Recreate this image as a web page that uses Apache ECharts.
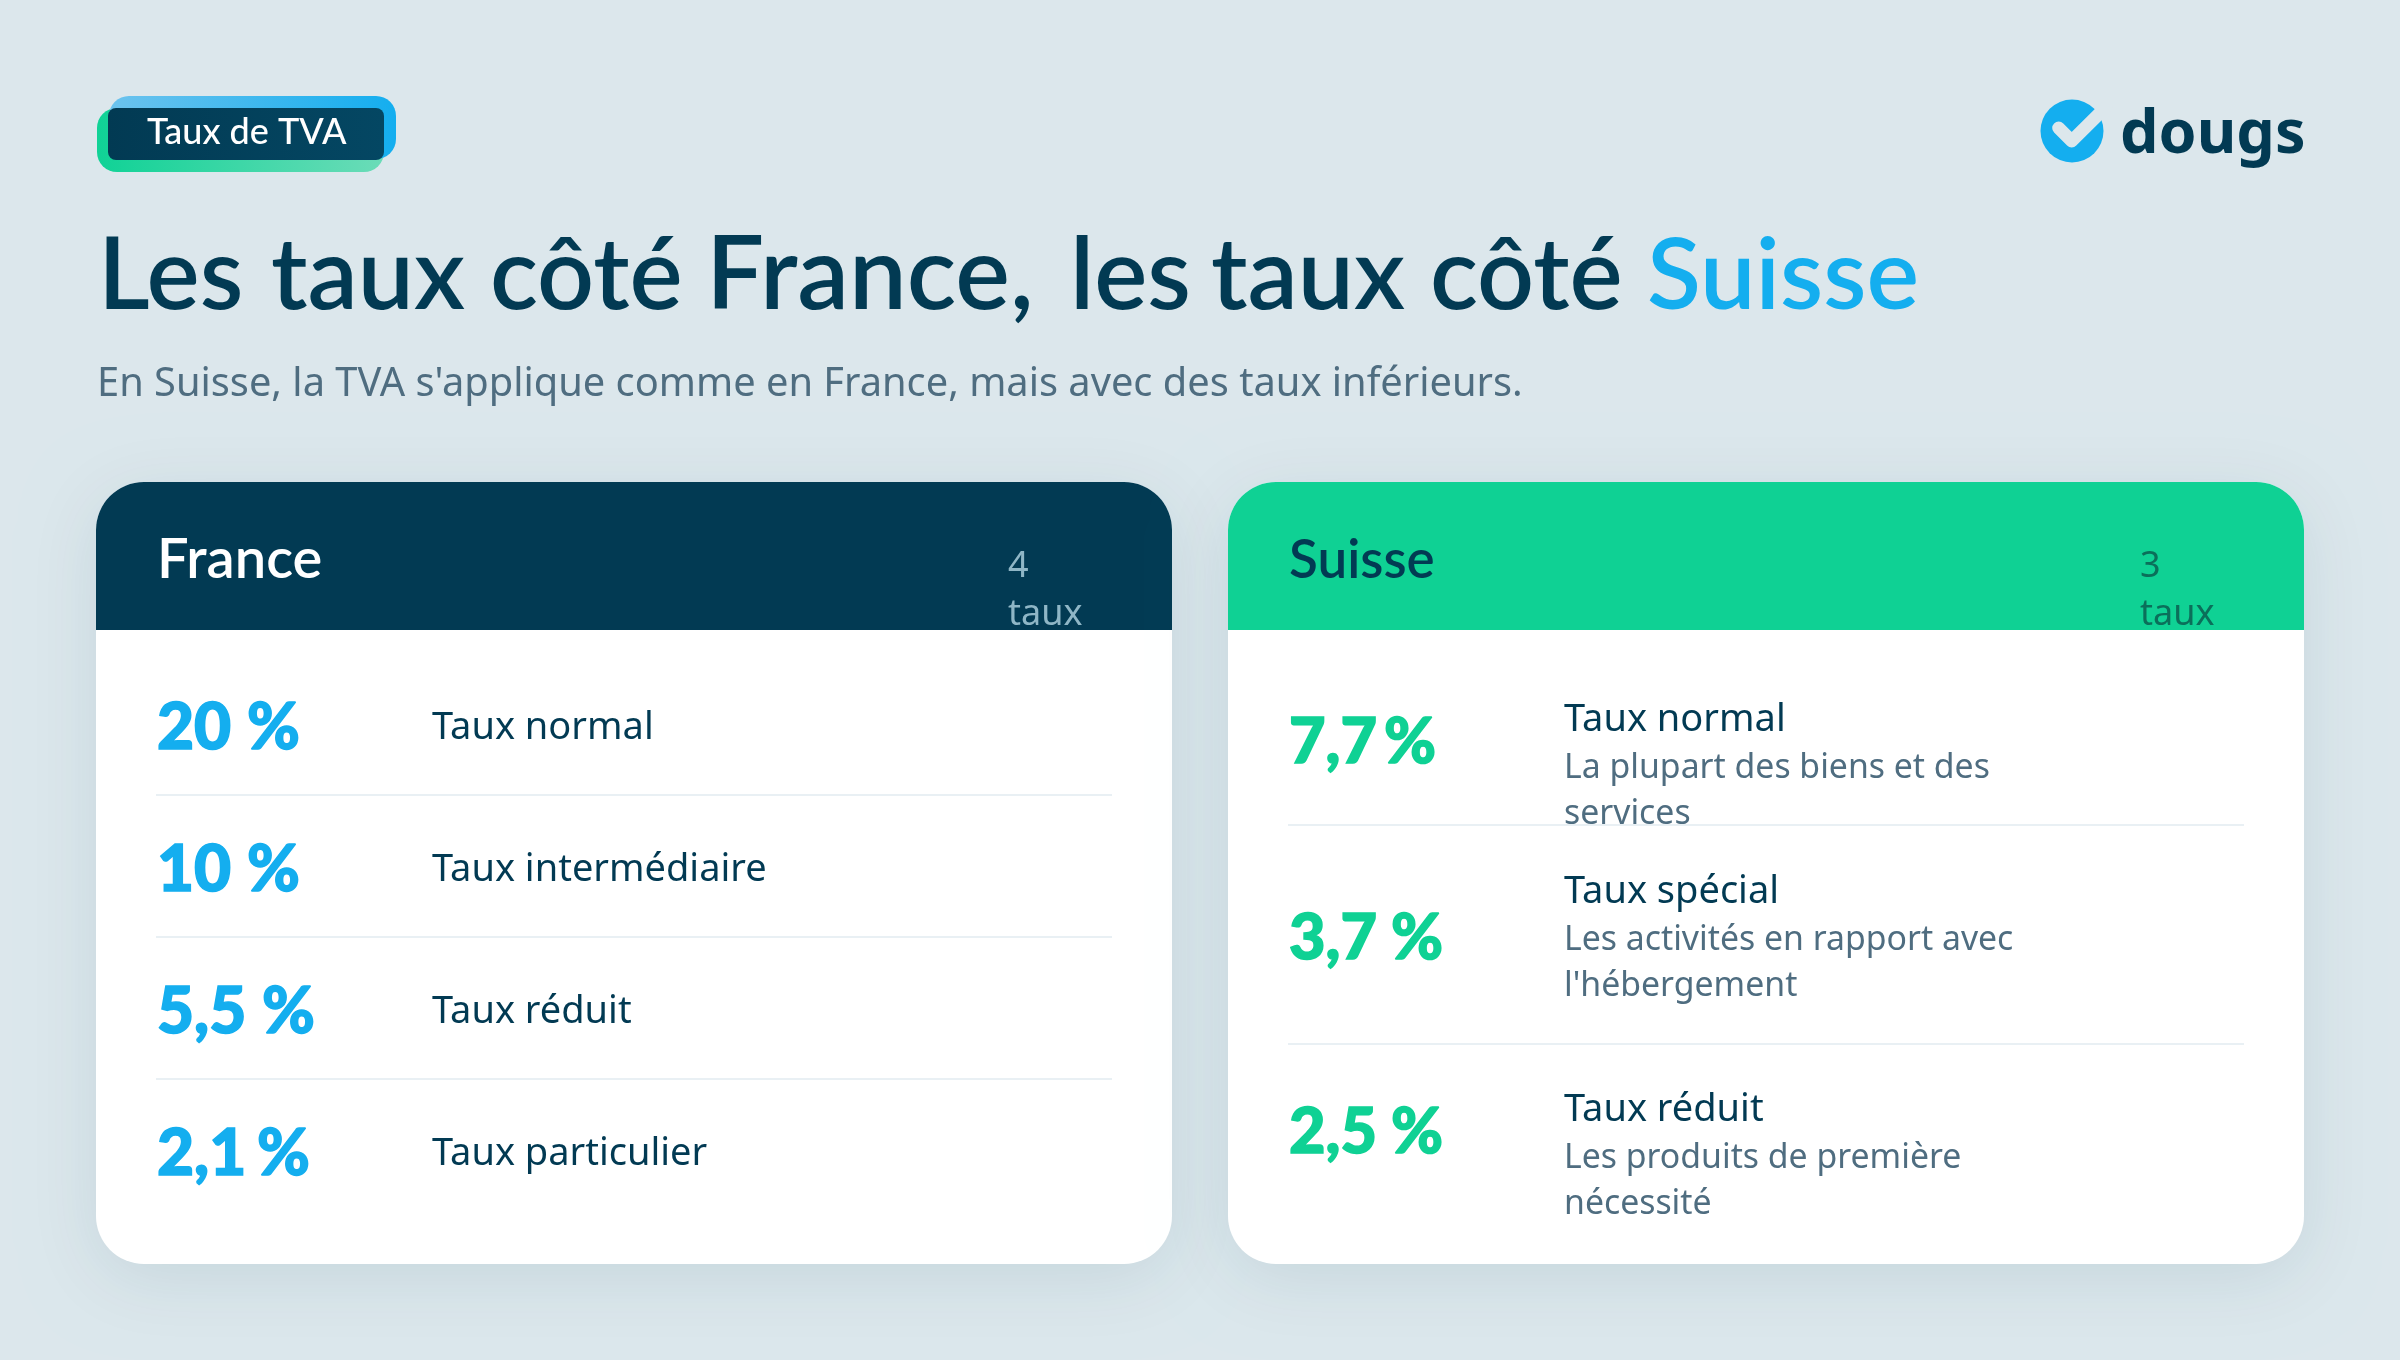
<!DOCTYPE html>
<html>
<head>
<meta charset="utf-8">
<title>Taux de TVA</title>
<style>
  html, body { margin: 0; padding: 0; background: #dce7ec; }
  #chart { width: 2400px; height: 1360px; }
</style>
<script src="https://cdn.jsdelivr.net/npm/echarts@6/dist/echarts.min.js"></script>
</head>
<body>
<div id="chart"></div>
<script>
const badgeText = "Taux de TVA";
const brandName = "dougs";
const titleWords = ["Les", "taux", "côté", "France,", "les", "taux", "côté"];
const titleAccent = "Suisse";
const subtitle = "En Suisse, la TVA s'applique comme en France, mais avec des taux inférieurs.";
const percentSign = "%";

const franceName = "France";
const franceCount = ["4", "taux"];
const franceRates = ["20", "10", "5,5", "2,1"];
const franceLabels = ["Taux normal", "Taux intermédiaire", "Taux réduit", "Taux particulier"];

const suisseName = "Suisse";
const suisseCount = ["3", "taux"];
const suisseRates = ["7,7", "3,7", "2,5"];
const suisseLabels = ["Taux normal", "Taux spécial", "Taux réduit"];
const suisseNotes = [
  ["La plupart des biens et des", "services"],
  ["Les activités en rapport avec", "l'hébergement"],
  ["Les produits de première", "nécessité"]
];

const NAVY = "#023a53", BLUE = "#14aeef", GREEN = "#0fd194", GREY = "#4f6d80", LINE = "#e9f0f4";
const HEAD = '"Lato", "Noto Sans", sans-serif';
const BODY = '"Noto Sans", "Open Sans", sans-serif';

const els = [];

// y is the baseline; the text is anchored on its middle, about a quarter em above it
function text(x, y, str, size, fill, font, weight, heavy) {
  const k = font === HEAD ? 0.28 : 0.26;
  els.push({
    type: "text", x: x, y: y - k * size,
    style: {
      text: str, font: (weight || 400) + " " + size + "px " + font, fill: fill, verticalAlign: "middle",
      stroke: heavy ? fill : null, lineWidth: heavy || 0
    }
  });
}

function box(x, y, w, h, r, fill, shadow) {
  els.push({ type: "rect", shape: { x: x, y: y, width: w, height: h, r: r }, style: Object.assign({ fill: fill }, shadow || {}) });
}

function hline(x1, x2, y) {
  els.push({ type: "line", shape: { x1: x1, y1: y, x2: x2, y2: y }, style: { stroke: LINE, lineWidth: 2 } });
}

function grad(a, b) {
  return { type: "linear", x: 0, y: 0, x2: 1, y2: 0, colorStops: [{ offset: 0, color: a }, { offset: 1, color: b }] };
}

// badge
box(97, 108, 287, 64, 20, grad("#10d296", "#6bdcb8"));
box(109, 96, 287, 63, 20, grad("#6cc3ee", "#14aeef"));
box(108, 108, 276, 52, 8, grad("#023a53", "#044763"));
text(147, 142, badgeText, 36, "#ffffff", HEAD, 500);

// logo
els.push({ type: "circle", shape: { cx: 2072, cy: 131, r: 31.5 }, style: { fill: BLUE } });
els.push({
  type: "polyline",
  shape: { points: [[2058.7, 128], [2071.7, 141], [2106, 107]] },
  style: { stroke: "#dce7ec", lineWidth: 13, fill: null, lineJoin: "round", lineCap: "round" }
});
text(2120, 151.5, brandName, 61, NAVY, BODY, 700);

// title, word by word since the fallback font is narrower than the original in places
const titleX = [98, 271, 490, 706, 1070, 1211, 1430];
const titleSize = [100, 100, 100, 103, 100, 100, 100];
titleWords.forEach(function (word, i) {
  text(titleX[i], 305, word, titleSize[i], NAVY, HEAD, 600);
});
text(1647, 305, titleAccent, 99, BLUE, HEAD, 600);
text(97, 395, subtitle, 39.8, GREY, BODY, 400);

// cards
const cardShadow = { shadowBlur: 70, shadowColor: "rgba(2,58,83,0.10)", shadowOffsetY: 14 };

function card(x, name, nameSize, count, headFill, nameFill, countFill) {
  box(x, 482, 1076, 782, 48, "#ffffff", cardShadow);
  box(x, 482, 1076, 148, [48, 48, 0, 0], headFill);
  text(x + 61, 576, name, nameSize, nameFill, HEAD, 600);
  text(x + 912, 576, count[0], 36, countFill, BODY, 400);
  text(x + 912, 624, count[1], 36, countFill, BODY, 400);
}

card(96, franceName, 56, franceCount, NAVY, "#ffffff", "#8fb6c6");
card(1228, suisseName, 53, suisseCount, GREEN, NAVY, "#0b6f5a");

// France rows
const franceBase = [746, 888, 1030, 1172];
const franceLineY = [795, 937, 1079];
const francePercentX = [247, 247, 262, 257];
franceRates.forEach(function (rate, i) {
  text(157, franceBase[i], rate, 64, BLUE, HEAD, 900, 1.5);
  text(francePercentX[i], franceBase[i], percentSign, 64, BLUE, HEAD, 900, 1.5);
  text(432, franceBase[i] - 8, franceLabels[i], 38, NAVY, BODY, 400);
  if (i < franceLineY.length) hline(156, 1112, franceLineY[i]);
});

// Suisse rows
const suisseRateBase = [760, 956, 1150];
const suisseLabelBase = [730, 902, 1120];
const suisseLineY = [825, 1044];
const suissePercentX = [1384, 1391, 1391];
suisseRates.forEach(function (rate, i) {
  text(1289, suisseRateBase[i], rate, 63, GREEN, HEAD, 900, 1.5);
  text(suissePercentX[i], suisseRateBase[i], percentSign, 63, GREEN, HEAD, 900, 1.5);
  text(1564, suisseLabelBase[i], suisseLabels[i], 38, NAVY, BODY, 400);
  suisseNotes[i].forEach(function (note, j) {
    text(1564, suisseLabelBase[i] + 47 + j * 46, note, 33.8, GREY, BODY, 400);
  });
  if (i < suisseLineY.length) hline(1288, 2244, suisseLineY[i]);
});

const chart = echarts.init(document.getElementById("chart"), null, { renderer: "canvas" });
chart.setOption({
  animation: false,
  backgroundColor: "#dce7ec",
  graphic: { elements: els }
});
</script>
</body>
</html>
